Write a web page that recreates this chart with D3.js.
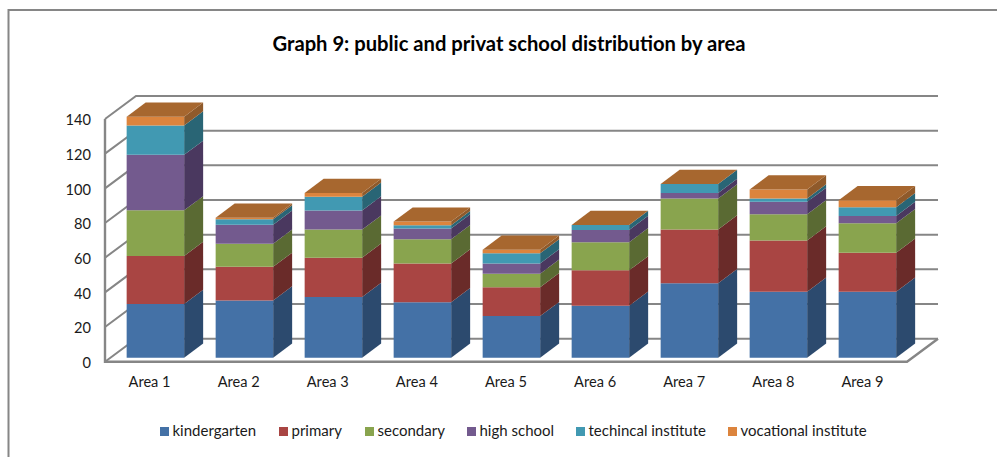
<!DOCTYPE html>
<html>
<head>
<meta charset="utf-8">
<script src="https://cdn.jsdelivr.net/npm/d3@7"></script>
<style>
html,body{margin:0;padding:0;background:#fff;overflow:hidden}
svg{display:block}
text{font-family:Lato,"Open Sans",sans-serif;fill:#1a1a1a}
</style>
</head>
<body>
<svg id="c" width="997" height="457"></svg>
<script>
const title = "Graph 9: public and privat school distribution by area";
const categories = ["Area 1","Area 2","Area 3","Area 4","Area 5","Area 6","Area 7","Area 8","Area 9"];
const seriesNames = ["kindergarten","primary","secondary","high school","techincal institute","vocational institute"];
const kindergarten = [31,33,35,32,24,30,43,38,38];
const primary      = [27.7,19.4,22.7,22.3,16.7,20.4,31,29.6,22.5];
const secondary    = [26.3,13.3,16.2,14,7.7,16.2,17.9,15.2,17.1];
const highSchool   = [32,11,11,6.2,6,7.1,3.1,7.1,4.2];
const technical    = [17,3.1,8,1.9,5.8,2.9,5.2,1.9,5];
const vocational   = [5,1,2.1,2.1,2.1,0,0,5.2,4];
const yTicks = [0,20,40,60,80,100,120,140];

const frontColors = ["#4471a6","#a94543","#89a44e","#735a8e","#4199b2","#dc843d"];
const sideColors  = ["#2c4a6e","#6a2b29","#5a6a33","#4a385f","#296575","#8f5a2b"];
const topColor = "#a7672f";
const lineColor = "#868686";
const legendX = [160,279,365,467,576,728];

const values = [kindergarten,primary,secondary,highSchool,technical,vocational];
const svg = d3.select("#c");

// frame
svg.append("path").attr("d","M997,10H8.5V457").attr("fill","none").attr("stroke",lineColor).attr("stroke-width",2);

// title
svg.append("text").attr("x",509).attr("y",51).attr("text-anchor","middle")
  .attr("font-size",20.2).attr("font-weight",700).style("fill","#000").text(title);

// scales
const y = d3.scaleLinear().domain([0,140]).range([361.7,119]);
const xFront = d3.scaleBand().domain(categories).range([105,907]);
const x = d3.scaleBand().domain(categories).range([110.9,911.9]).paddingInner(0.354).paddingOuter(0.177);
const wallDx = 31, wallDy = -23, barDx = 19, barDy = -14.2, barLift = -4;

// walls and floor
const grid = svg.append("g").attr("fill","none").attr("stroke",lineColor).attr("stroke-width",2);
yTicks.forEach(t=>{
  const yy = y(t);
  grid.append("path").attr("d",`M${105},${yy}L${105+wallDx},${yy+wallDy}H${907+wallDx}`);
});
grid.append("path").attr("d",`M105,${y(140)}V${y(0)}H907L${907+wallDx},${y(0)+wallDy}`).attr("stroke-width",2.4);

// axes
const yAxis = svg.append("g").attr("transform","translate(105,1)")
  .call(d3.axisLeft(y).tickValues(yTicks).tickSize(0).tickPadding(14));
yAxis.select(".domain").remove();
yAxis.selectAll("text").attr("font-size",14.6).style("font-family","Lato");
const xAxis = svg.append("g").attr("transform","translate(0,364)")
  .call(d3.axisBottom(xFront).tickSize(0).tickPadding(13));
xAxis.select(".domain").remove();
xAxis.selectAll("text").attr("font-size",14.6).style("font-family","Lato");

// bars
const stackData = categories.map((c,i)=>{
  const o = {category:c};
  seriesNames.forEach((s,k)=>o[s]=values[k][i]);
  return o;
});
const layers = d3.stack().keys(seriesNames)(stackData);
const pts = a=>a.map(p=>p.join(",")).join(" ");
categories.forEach((c,i)=>{
  const g = svg.append("g");
  const x0 = x(c), x1 = x0 + x.bandwidth();
  layers.forEach((layer,k)=>{
    const [v0,v1] = layer[i];
    if (v1<=v0) return;
    const yb = y(v0)+barLift, yt = y(v1)+barLift;
    g.append("polygon").attr("fill",sideColors[k])
      .attr("points",pts([[x1,yb],[x1+barDx,yb+barDy],[x1+barDx,yt+barDy],[x1,yt]]));
    g.append("polygon").attr("fill",frontColors[k])
      .attr("points",pts([[x0,yb],[x1,yb],[x1,yt],[x0,yt]]));
  });
  const top = y(layers[layers.length-1][i][1])+barLift;
  g.append("polygon").attr("fill",topColor)
    .attr("points",pts([[x0,top],[x1,top],[x1+barDx,top+barDy],[x0+barDx,top+barDy]]));
});

// legend
const legend = svg.append("g");
seriesNames.forEach((s,k)=>{
  legend.append("rect").attr("x",legendX[k]).attr("y",427).attr("width",9).attr("height",9).attr("fill",frontColors[k]);
  legend.append("text").attr("x",legendX[k]+12.5).attr("y",436).attr("font-size",15).text(s);
});
</script>
</body>
</html>
